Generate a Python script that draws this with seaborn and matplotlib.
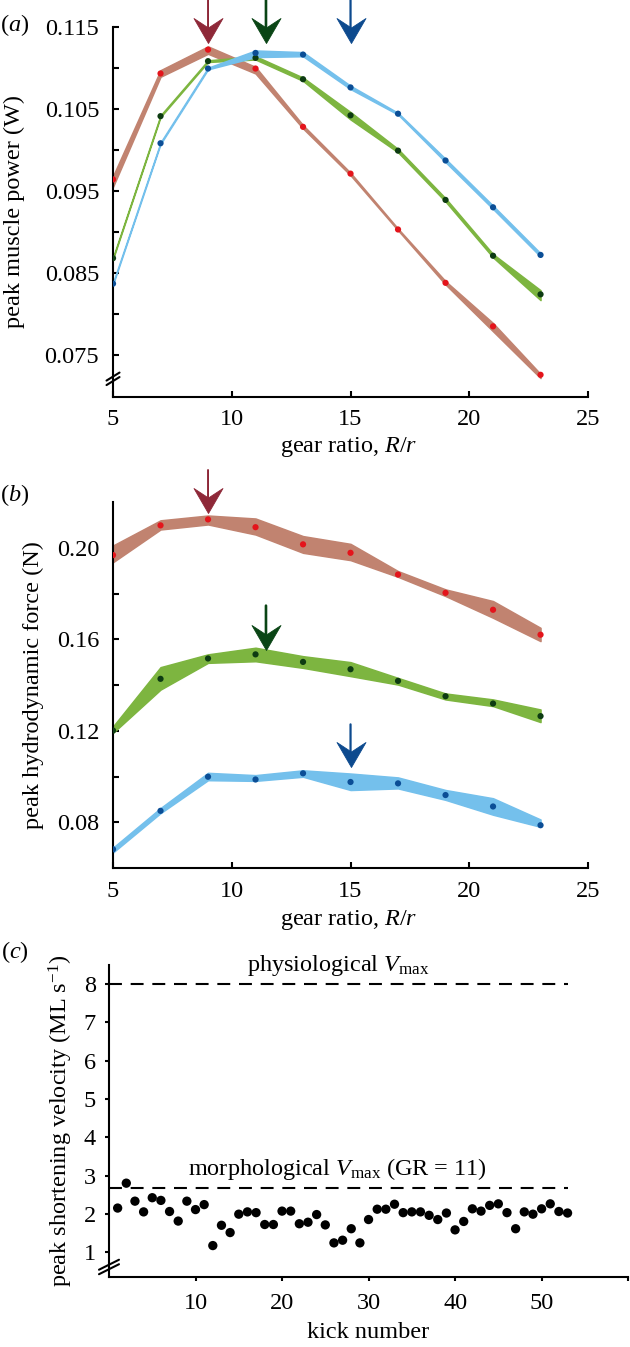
import numpy as np
import pandas as pd
import matplotlib
matplotlib.use("Agg")
import matplotlib.pyplot as plt
from matplotlib.path import Path
import seaborn as sns

# ---------------- data ----------------
gear = [5, 7, 9, 11, 13, 15, 17, 19, 21, 23]

# panel (a): peak muscle power (W)
powA_red = [0.0964, 0.1093, 0.1122, 0.1099, 0.1028, 0.0971, 0.0903, 0.0838, 0.0785, 0.0726]
powA_red_lo = [0.0955, 0.1089, 0.1117, 0.1093, 0.1026, 0.0969, 0.0902, 0.0836, 0.0779, 0.0722]
powA_red_hi = [0.0968, 0.1097, 0.1126, 0.1101, 0.1030, 0.0972, 0.0904, 0.0840, 0.0789, 0.0727]
powA_grn = [0.0868, 0.1041, 0.1108, 0.1112, 0.1086, 0.1042, 0.0999, 0.0939, 0.0871, 0.0824]
powA_grn_lo = [0.0867, 0.1040, 0.1107, 0.1110, 0.1084, 0.1037, 0.0997, 0.0937, 0.0869, 0.0817]
powA_grn_hi = [0.0869, 0.1042, 0.1109, 0.1114, 0.1088, 0.1046, 0.1001, 0.0941, 0.0873, 0.0829]
powA_blu = [0.0837, 0.1008, 0.1099, 0.1118, 0.1116, 0.1076, 0.1044, 0.0987, 0.0930, 0.0872]
powA_blu_lo = [0.0836, 0.1007, 0.1098, 0.1113, 0.1114, 0.1074, 0.1043, 0.0985, 0.0928, 0.0870]
powA_blu_hi = [0.0838, 0.1009, 0.1100, 0.1121, 0.1119, 0.1078, 0.1045, 0.0989, 0.0932, 0.0874]

# panel (b): peak hydrodynamic force (N)
frcB_red = [0.1968, 0.2098, 0.2124, 0.2090, 0.2015, 0.1978, 0.1883, 0.1803, 0.1729, 0.1620]
frcB_red_lo = [0.1937, 0.2080, 0.2102, 0.2058, 0.1978, 0.1946, 0.1873, 0.1789, 0.1694, 0.1592]
frcB_red_hi = [0.2010, 0.2120, 0.2141, 0.2128, 0.2051, 0.2017, 0.1898, 0.1818, 0.1767, 0.1650]
frcB_grn = [0.1201, 0.1427, 0.1516, 0.1534, 0.1501, 0.1469, 0.1418, 0.1351, 0.1319, 0.1264]
frcB_grn_lo = [0.1191, 0.1380, 0.1497, 0.1504, 0.1475, 0.1439, 0.1402, 0.1337, 0.1308, 0.1238]
frcB_grn_hi = [0.1219, 0.1478, 0.1534, 0.1563, 0.1526, 0.1500, 0.1431, 0.1363, 0.1337, 0.1293]
frcB_blu = [0.0682, 0.0850, 0.0999, 0.0987, 0.1014, 0.0976, 0.0970, 0.0919, 0.0869, 0.0787]
frcB_blu_lo = [0.0668, 0.0840, 0.0984, 0.0981, 0.0999, 0.0941, 0.0948, 0.0898, 0.0833, 0.0780]
frcB_blu_hi = [0.0689, 0.0862, 0.1016, 0.1006, 0.1027, 0.1013, 0.0996, 0.0941, 0.0905, 0.0812]

# optimum gear ratio arrows (x) and arrow tip/tail values
opt_gear = [9, 11.44, 15]
arrowA_tip = [0.1130, 0.1130, 0.1130]
arrowA_tail = [0.1185, 0.1185, 0.1185]
arrowB_tip = [0.2153, 0.1555, 0.1040]
arrowB_tail = [0.2340, 0.1747, 0.1228]

# panel (c): peak shortening velocity per kick
kick = list(range(1, 54))
vel = [2.15, 2.80, 2.33, 2.05, 2.42, 2.35, 2.06, 1.81, 2.33, 2.11,
       2.24, 1.17, 1.70, 1.51, 1.99, 2.05, 2.03, 1.72, 1.72, 2.07,
       2.07, 1.74, 1.78, 1.98, 1.71, 1.24, 1.31, 1.61, 1.24, 1.85,
       2.12, 2.12, 2.25, 2.03, 2.05, 2.05, 1.96, 1.85, 2.02, 1.58,
       1.80, 2.13, 2.07, 2.22, 2.26, 2.03, 1.61, 2.05, 1.99, 2.13,
       2.26, 2.06, 2.02]
vmax_phys = 8.0
vmax_morph = 2.67

# tick labels
ticksA_y = [0.075, 0.085, 0.095, 0.105, 0.115]
ticksA_y_minor = [0.080, 0.090, 0.100, 0.110]
ticksB_y = [0.08, 0.12, 0.16, 0.20]
ticksB_y_minor = [0.10, 0.14, 0.18]
ticks_gear = [5, 10, 15, 20, 25]
ticksC_x = [10, 20, 30, 40, 50, 60]
ticksC_y = [1, 2, 3, 4, 5, 6, 7, 8]

# ---------------- style ----------------
sns.set_theme(style="ticks")
FS = 17.5
plt.rcParams.update({
    "font.family": ["Liberation Serif", "DejaVu Serif"],
    "mathtext.fontset": "custom",
    "mathtext.rm": "Liberation Serif",
    "mathtext.it": "Liberation Serif:italic",
    "mathtext.bf": "Liberation Serif:bold",
    "font.size": FS,
    "axes.labelsize": FS,
    "xtick.labelsize": FS,
    "ytick.labelsize": FS,
    "axes.linewidth": 1.5,
    "axes.edgecolor": "black",
    "axes.labelcolor": "black",
    "text.color": "black",
    "xtick.color": "black",
    "ytick.color": "black",
})

RED_BAND, RED_PT, RED_ARW = "#C18370", "#E4141B", "#8E2838"
GRN_BAND, GRN_PT, GRN_ARW = "#7DB540", "#0D3B12", "#0A4515"
BLU_BAND, BLU_PT, BLU_ARW = "#74C0EC", "#0B4E96", "#0D4A8E"

# notched (stealth) arrow head, tip at the origin, opening upwards
HEAD = Path([(0, 0), (-0.58, 1.0), (0, 0.62), (0.58, 1.0), (0, 0)],
            [Path.MOVETO, Path.LINETO, Path.LINETO, Path.LINETO, Path.CLOSEPOLY])

fig = plt.figure(figsize=(6.3, 13.47), dpi=100)
axA = fig.add_axes([0.1794, 0.7053, 0.754, 0.2749])
axB = fig.add_axes([0.1794, 0.3556, 0.754, 0.2717])
axC = fig.add_axes([0.173, 0.052, 0.824, 0.2316])


def draw_series(ax, y, lo, hi, band, pt):
    ax.fill_between(gear, lo, hi, color=band, edgecolor=band, lw=1.1, zorder=2)
    sns.scatterplot(x=gear, y=y, ax=ax, color=pt, s=20, edgecolor="none",
                    zorder=3, legend=False)


def draw_arrows(ax, tips, tails, lws):
    for xg, tip, tail, col, lw in zip(opt_gear, tips, tails,
                                      [RED_ARW, GRN_ARW, BLU_ARW], lws):
        ax.annotate("", xy=(xg, tip), xytext=(xg, tail),
                    arrowprops=dict(arrowstyle="-", color=col, lw=lw,
                                    shrinkA=0, shrinkB=8),
                    annotation_clip=False)
        ax.plot([xg], [tip], marker=HEAD, markersize=36, color=col,
                markeredgecolor=col, markeredgewidth=0.6, linestyle="none",
                clip_on=False, zorder=6)


def add_break(ax, yfrac, hw, hh, gap, axw, axh):
    for off in (-gap / 2, gap / 2):
        ax.plot([-hw / axw, hw / axw],
                [yfrac + (off - hh) / axh, yfrac + (off + hh) / axh],
                transform=ax.transAxes, color="black", lw=1.5,
                clip_on=False, zorder=5)


def ylabel_at(ax, text, xfrac):
    ax.set_ylabel(text)
    ax.yaxis.set_label_coords(xfrac, 0.5)
    ax.yaxis.label.set_va("center")


# ---------------- panel (a) ----------------
draw_series(axA, powA_red, powA_red_lo, powA_red_hi, RED_BAND, RED_PT)
draw_series(axA, powA_grn, powA_grn_lo, powA_grn_hi, GRN_BAND, GRN_PT)
draw_series(axA, powA_blu, powA_blu_lo, powA_blu_hi, BLU_BAND, BLU_PT)
draw_arrows(axA, arrowA_tip, arrowA_tail, [1.4, 1.9, 1.6])
axA.set_xlim(5, 25)
axA.set_ylim(0.0699, 0.115)
axA.set_xticks(ticks_gear)
axA.set_yticks(ticksA_y)
axA.set_yticklabels([f"{v:.3f}" for v in ticksA_y])
axA.set_yticks(ticksA_y_minor, minor=True)
axA.tick_params(which="both", direction="in", length=4, width=1.5)
axA.tick_params(axis="y", pad=10)
axA.tick_params(axis="x", pad=9)
axA.set_xlabel(r"gear ratio, $R/r$")
axA.xaxis.set_label_coords(0.497, -0.135)
axA.xaxis.label.set_va("center")
ylabel_at(axA, "peak muscle power (W)", -0.208)
sns.despine(ax=axA)
add_break(axA, 0.049, 6.5, 4, 4.5, 475, 370)

# ---------------- panel (b) ----------------
draw_series(axB, frcB_red, frcB_red_lo, frcB_red_hi, RED_BAND, RED_PT)
draw_series(axB, frcB_grn, frcB_grn_lo, frcB_grn_hi, GRN_BAND, GRN_PT)
draw_series(axB, frcB_blu, frcB_blu_lo, frcB_blu_hi, BLU_BAND, BLU_PT)
draw_arrows(axB, arrowB_tip, arrowB_tail, [1.4, 1.9, 1.6])
axB.set_xlim(5, 25)
axB.set_ylim(0.06, 0.22)
axB.set_xticks(ticks_gear)
axB.set_yticks(ticksB_y)
axB.set_yticklabels([f"{v:.2f}" for v in ticksB_y])
axB.set_yticks(ticksB_y_minor, minor=True)
axB.tick_params(which="both", direction="in", length=4, width=1.5)
axB.tick_params(axis="y", pad=10)
axB.tick_params(axis="x", pad=9)
axB.set_xlabel(r"gear ratio, $R/r$")
axB.xaxis.set_label_coords(0.497, -0.142)
axB.xaxis.label.set_va("center")
ylabel_at(axB, "peak hydrodynamic force (N)", -0.168)
sns.despine(ax=axB)

# ---------------- panel (c) ----------------
dfC = pd.DataFrame({"kick": kick, "vel": vel})
sns.scatterplot(data=dfC, x="kick", y="vel", ax=axC, color="black", s=45,
                edgecolor="none", zorder=3, legend=False)
for v in (vmax_phys, vmax_morph):
    axC.hlines(v, 0, kick[-1], colors="black", lw=1.5, linestyles=(0, (6.2, 4.2)),
               zorder=2)
axC.text(26.5, 8.35, r"physiological $V_{\mathrm{max}}$", ha="center",
         va="baseline", fontsize=FS, clip_on=False)
axC.text(26.4, 3.01, r"morphological $V_{\mathrm{max}}$ (GR = 11)", ha="center",
         va="baseline", fontsize=FS)
axC.set_xlim(0, 60)
axC.set_ylim(0.35, 8.5)
axC.set_xticks(ticksC_x)
axC.set_xticklabels([str(t) if t < 60 else "" for t in ticksC_x])
axC.set_yticks(ticksC_y)
axC.tick_params(which="both", direction="out", length=3, width=1.5)
axC.tick_params(axis="y", pad=6.5)
axC.tick_params(axis="x", pad=8.5)
axC.set_xlabel("kick number")
axC.xaxis.set_label_coords(0.5, -0.179)
axC.xaxis.label.set_va("center")
ylabel_at(axC, r"peak shortening velocity (ML s$^{-1}$)", -0.0925)
sns.despine(ax=axC)
add_break(axC, 0.032, 10, 5, 4.5, 519, 312)

# panel letters
fig.text(15 / 630, 1 - 25 / 1347, r"($a$)", ha="center", va="center", fontsize=FS)
fig.text(15 / 630, 1 - 495 / 1347, r"($b$)", ha="center", va="center", fontsize=FS)
fig.text(15 / 630, 1 - 952 / 1347, r"($c$)", ha="center", va="center", fontsize=FS)

fig.savefig("out.png", dpi=100)
